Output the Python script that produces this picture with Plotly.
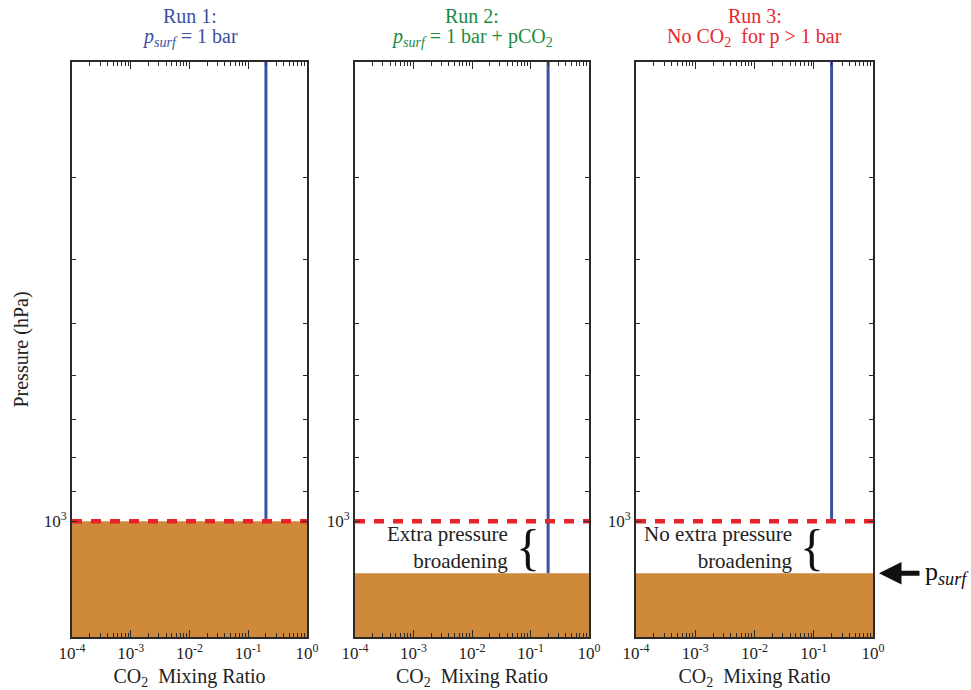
import plotly.graph_objects as go
from plotly.subplots import make_subplots
import math

# ---- data ----
run_titles = ["Run 1:", "Run 2:", "Run 3:"]
run_subtitles = ["<i>p</i><sub><i>surf</i></sub> = 1 bar",
                 "<i>p</i><sub><i>surf</i></sub> = 1 bar + pCO<sub>2</sub>",
                 "No CO<sub>2</sub>  for p > 1 bar"]
title_colors = ["#3b4fa0", "#1b8a44", "#e8262d"]
co2_mixing_ratio = 0.2
p_top = 200          # hPa
p_bottom = 1500      # hPa
ref_pressure = 1000  # hPa (1 bar)
p_surf = [1000, 1200, 1200]
co2_bottom = [1000, 1200, 1000]
x_min, x_max = 1e-4, 1.0
x_tickvals = [1e-4, 1e-3, 1e-2, 1e-1, 1e0]
x_ticktext = ["10<sup>-4</sup>", "10<sup>-3</sup>", "10<sup>-2</sup>", "10<sup>-1</sup>", "10<sup>0</sup>"]
y_tickvals = [1000]
y_ticktext = ["10<sup>3</sup>"]
y_minor = [200, 300, 400, 500, 600, 700, 800, 900]
x_minor = [m * 10.0 ** e for e in range(-4, 0) for m in range(2, 10)]
brace_labels = [None, "Extra pressure<br>broadening", "No extra pressure<br>broadening"]

W, H = 971, 690
FONT = "Liberation Serif"
ground_color = "#ce893b"
blue = "#3953a5"
red = "#e8232a"
frame = "#2a2a2a"

fig = make_subplots(rows=1, cols=3)

x_domains = [(72, 307), (355, 589), (636, 873)]
y_top_px, y_bot_px = 62, 637

for i in range(3):
    r, c = 1, i + 1
    # ground
    fig.add_trace(go.Scatter(
        x=[x_min, x_max, x_max, x_min, x_min],
        y=[p_surf[i], p_surf[i], p_bottom, p_bottom, p_surf[i]],
        fill="toself", fillcolor=ground_color, mode="lines",
        line=dict(width=0, color=ground_color), hoverinfo="skip", showlegend=False), row=r, col=c)
    # CO2 profile
    fig.add_trace(go.Scatter(
        x=[co2_mixing_ratio, co2_mixing_ratio], y=[p_top, co2_bottom[i]],
        mode="lines", line=dict(color=blue, width=3), showlegend=False), row=r, col=c)
    # 1 bar reference
    fig.add_trace(go.Scatter(
        x=[x_min, x_max], y=[ref_pressure, ref_pressure],
        mode="lines", line=dict(color=red, width=4.5, dash="10px,9px"), showlegend=False), row=r, col=c)

    xa = "xaxis" if i == 0 else f"xaxis{i+1}"
    ya = "yaxis" if i == 0 else f"yaxis{i+1}"
    x0, x1 = x_domains[i]
    fig.layout[xa].update(
        type="log", range=[math.log10(x_min), math.log10(x_max)],
        domain=[x0 / W, x1 / W], automargin=False,
        tickmode="array", tickvals=x_tickvals, ticktext=x_ticktext,
        ticks="inside", ticklen=7, tickwidth=1, tickcolor=frame,
        minor=dict(tickmode="array", tickvals=x_minor, ticks="inside", ticklen=4, tickwidth=1, tickcolor=frame),
        showline=True, linecolor=frame, linewidth=2, mirror="ticks",
        showgrid=False, zeroline=False,
        tickfont=dict(family=FONT, size=17, color="#222"),
        title=dict(text="CO<sub>2</sub>  Mixing Ratio", font=dict(family=FONT, size=20, color="#222"), standoff=8),
    )
    fig.layout[ya].update(
        type="log", range=[math.log10(p_bottom), math.log10(p_top)],
        domain=[1 - y_bot_px / H, 1 - y_top_px / H], automargin=False,
        tickmode="array", tickvals=y_tickvals, ticktext=y_ticktext,
        ticks="inside", ticklen=5, tickwidth=1, tickcolor=frame,
        minor=dict(tickmode="array", tickvals=y_minor, ticks="inside", ticklen=4, tickwidth=1, tickcolor=frame),
        showline=True, linecolor=frame, linewidth=2, mirror="ticks",
        showgrid=False, zeroline=False,
        tickfont=dict(family=FONT, size=17, color="#222"),
    )
    xref = "x" if i == 0 else f"x{i+1}"
    yref = "y" if i == 0 else f"y{i+1}"
    # titles
    fig.add_annotation(text=run_titles[i], xref=f"{xref} domain", yref="paper",
                       x=0.5, y=1 - 16 / H, xanchor="center", yanchor="middle", showarrow=False,
                       font=dict(family=FONT, size=20, color=title_colors[i]))
    fig.add_annotation(text=run_subtitles[i], xref=f"{xref} domain", yref="paper",
                       x=0.5, y=1 - 38 / H, xanchor="center", yanchor="middle", showarrow=False,
                       font=dict(family=FONT, size=20, color=title_colors[i]))
    if brace_labels[i]:
        mid = (math.log10(ref_pressure) + math.log10(p_surf[i])) / 2
        fig.add_annotation(text=brace_labels[i], xref=f"{xref} domain", yref=yref,
                           x=(510 - x0) / (x1 - x0) if i == 1 else (795 - x0) / (x1 - x0),
                           y=mid, xanchor="right", yanchor="middle",
                           align="right", showarrow=False,
                           font=dict(family=FONT, size=21, color="#222"))
        fig.add_annotation(text="{", xref=f"{xref} domain", yref=yref,
                           x=(528 - x0) / (x1 - x0) if i == 1 else (812 - x0) / (x1 - x0),
                           y=mid, xanchor="center", yanchor="middle",
                           showarrow=False, font=dict(family=FONT, size=50, color="#111"))

fig.layout.yaxis.update(title=dict(text="Pressure (hPa)", font=dict(family=FONT, size=20, color="#222"), standoff=10))

# p_surf arrow at right
fig.add_annotation(text="", xref="paper", yref="y3", x=879 / W, y=math.log10(p_surf[2]),
                   ax=42, ay=0, showarrow=True, arrowhead=2, arrowsize=0.9, arrowwidth=5, arrowcolor="#111")
fig.add_annotation(text="p<sub><i>surf</i></sub>", xref="paper", yref="y3", x=923 / W, y=math.log10(p_surf[2]),
                   xanchor="left", yanchor="middle", showarrow=False,
                   font=dict(family=FONT, size=26, color="#111"))

fig.update_layout(width=W, height=H, margin=dict(l=0, r=0, t=0, b=0),
                  font=dict(family=FONT, color="#222"),
                  paper_bgcolor="white", plot_bgcolor="white", showlegend=False)

fig.write_html("out.html", config={"displayModeBar": False},
               post_script="document.body.style.margin='0';document.body.style.padding='0';")
